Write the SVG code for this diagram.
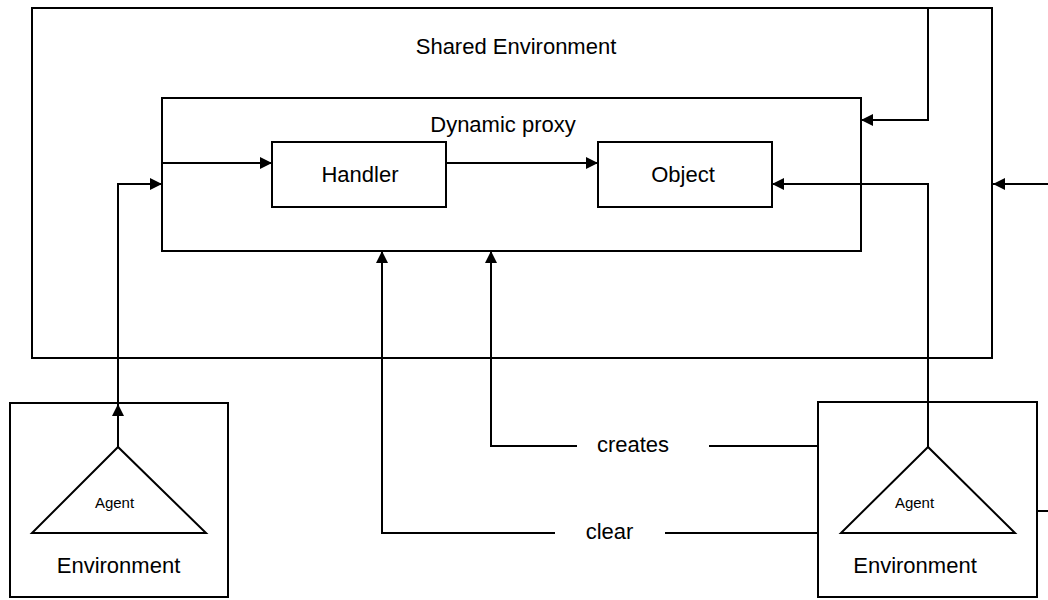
<svg xmlns="http://www.w3.org/2000/svg" width="1048" height="600" viewBox="0 0 1048 600">
<defs>
<marker id="arr" viewBox="0 0 12 12" refX="12" refY="6" markerWidth="12" markerHeight="12" markerUnits="userSpaceOnUse" orient="auto">
<path d="M0,0 L12,6 L0,12 Z" fill="#000"/>
</marker>
<style>
.box{fill:#fff;stroke:#000;stroke-width:2}
.ln{fill:none;stroke:#000;stroke-width:2}
.t{font-family:"Liberation Sans",Arial,sans-serif;font-size:22px;fill:#000;text-anchor:middle}
.s{font-family:"Liberation Sans",Arial,sans-serif;font-size:15px;fill:#000;text-anchor:middle}
</style>
</defs>
<rect width="1048" height="600" fill="#fff"/>
<g id="shared-env">
<rect class="box" x="32" y="8" width="960" height="350"/>
<text class="t" x="516" y="54">Shared Environment</text>
</g>
<g id="dynamic-proxy">
<rect class="box" x="162" y="98" width="699" height="153"/>
<text class="t" x="503" y="132">Dynamic proxy</text>
</g>
<g id="handler">
<rect class="box" x="272" y="142" width="174" height="65"/>
<text class="t" x="360" y="182">Handler</text>
</g>
<g id="object">
<rect class="box" x="598" y="142" width="174" height="65"/>
<text class="t" x="683" y="182">Object</text>
</g>
<g id="env-left">
<rect class="box" x="10" y="403" width="218" height="194"/>
<text class="t" x="118.5" y="573">Environment</text>
</g>
<g id="agent-left">
<path class="box" d="M118,447 L32,533 L206,533 Z"/>
<text class="s" x="114.5" y="508">Agent</text>
</g>
<g id="env-right">
<rect class="box" x="818" y="402" width="219" height="195"/>
<text class="t" x="915" y="573">Environment</text>
</g>
<g id="agent-right">
<path class="box" d="M928,447 L841,533 L1015,533 Z"/>
<text class="s" x="914.5" y="508">Agent</text>
</g>
<g id="connectors">
<path class="ln" d="M162,163 L272,163" marker-end="url(#arr)"/>
<path class="ln" d="M446,163 L598,163" marker-end="url(#arr)"/>
<path class="ln" d="M928,8 L928,120 L861,120" marker-end="url(#arr)"/>
<path class="ln" d="M1048,184 L993,184" marker-end="url(#arr)"/>
<path class="ln" d="M928,447 L928,184 L772,184" marker-end="url(#arr)"/>
<path class="ln" d="M118,447 L118,404" marker-end="url(#arr)"/>
<path class="ln" d="M118,404 L118,184 L162,184" marker-end="url(#arr)"/>
<path class="ln" d="M818,446 L709,446"/>
<path class="ln" d="M577,446 L491,446 L491,251" marker-end="url(#arr)"/>
<path class="ln" d="M818,533 L665,533"/>
<path class="ln" d="M555,533 L382,533 L382,251" marker-end="url(#arr)"/>
<path class="ln" d="M1037,511 L1048,511"/>
<text class="t" x="633" y="452">creates</text>
<text class="t" x="609.5" y="539">clear</text>
</g>
</svg>
